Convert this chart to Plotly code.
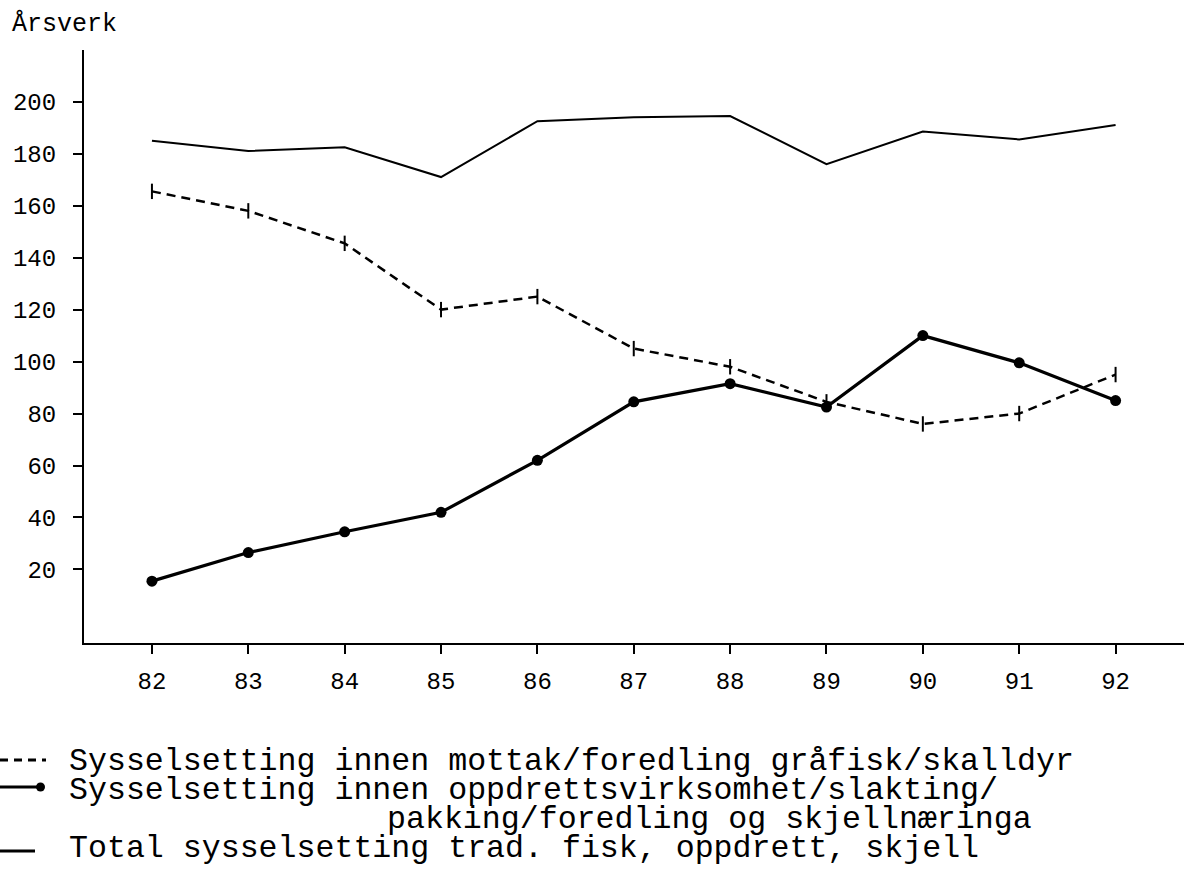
import plotly.graph_objects as go

years = [82, 83, 84, 85, 86, 87, 88, 89, 90, 91, 92]
mottak = [165.5, 158, 145.5, 120, 125, 105, 98, 84.5, 76, 80, 95]
oppdrett = [15.5, 26.5, 34.5, 42, 62, 84.5, 91.5, 82.5, 110, 99.5, 85]
total = [185, 181, 182.5, 171, 192.5, 194, 194.5, 176, 188.5, 185.5, 191]
y_ticks = [20, 40, 60, 80, 100, 120, 140, 160, 180, 200]
x_ticks = years
x_ticktext = ["82", "83", "84", "85", "86", "87", "88", "89", "90", "91", "92"]
legend_lines = [
    "Sysselsetting innen mottak/foredling gråfisk/skalldyr",
    "Sysselsetting innen oppdrettsvirksomhet/slakting/",
    "pakking/foredling og skjellnæringa",
    "Total sysselsetting trad. fisk, oppdrett, skjell",
]

FONT = "Liberation Mono, Courier New, monospace"
W, H = 1184, 870
L, R, T, B = 84, 0, 50, 227
PW, PH = W - L - R, H - T - B


def px(x):
    return (x - L) / PW


def py(y):
    return (H - B - y) / PH


fig = go.Figure()
fig.add_trace(go.Scatter(
    x=years, y=total, mode="lines",
    line=dict(color="black", width=2), showlegend=False))
fig.add_trace(go.Scatter(
    x=years, y=mottak, mode="lines+markers",
    line=dict(color="black", width=2.5, dash="9px,6px"),
    marker=dict(symbol="line-ns", size=11, line=dict(color="black", width=2)),
    showlegend=False))
fig.add_trace(go.Scatter(
    x=years, y=oppdrett, mode="lines+markers",
    line=dict(color="black", width=3.2),
    marker=dict(symbol="circle", size=11, color="black"),
    showlegend=False))

fig.update_layout(
    width=W, height=H,
    margin=dict(l=L, r=R, t=T, b=B, pad=0),
    paper_bgcolor="white", plot_bgcolor="white",
    font=dict(family=FONT, color="black", size=24),
    xaxis=dict(range=[81.295, 92.71], tickvals=x_ticks, ticktext=x_ticktext,
               showgrid=False, zeroline=False, showline=True, linecolor="black",
               linewidth=2, ticks="outside", ticklen=9, tickwidth=2,
               tickcolor="black", tickfont=dict(size=24, family=FONT),
               ticklabelstandoff=6),
    yaxis=dict(range=[-8.3, 219.9], tickvals=y_ticks,
               showgrid=False, zeroline=False, showline=True, linecolor="black",
               linewidth=2, ticks="outside", ticklen=9, tickwidth=2,
               tickcolor="black", tickfont=dict(size=24, family=FONT),
               ticklabelstandoff=12),
)

# axis title
fig.add_annotation(text="Årsverk", xref="paper", yref="paper",
                   x=px(10), y=py(24), xanchor="left", yanchor="middle",
                   showarrow=False, font=dict(size=25, family=FONT))

# legend text
leg_y = [761, 790, 819, 848]
leg_x = [67, 67, 385, 67]
for txt, yy, xx in zip(legend_lines, leg_y, leg_x):
    fig.add_annotation(text=txt, xref="paper", yref="paper",
                       x=px(xx), y=py(yy), xanchor="left", yanchor="middle",
                       showarrow=False, font=dict(size=31.6, family=FONT))

# legend samples
fig.add_shape(type="line", xref="paper", yref="paper",
              x0=px(0), x1=px(46), y0=py(760), y1=py(760),
              line=dict(color="black", width=3, dash="8px,6px"))
fig.add_shape(type="line", xref="paper", yref="paper",
              x0=px(0), x1=px(40), y0=py(787), y1=py(787),
              line=dict(color="black", width=3))
fig.add_shape(type="circle", xref="paper", yref="paper",
              x0=px(36), x1=px(45), y0=py(782.5), y1=py(791.5),
              fillcolor="black", line=dict(color="black", width=0))
fig.add_shape(type="line", xref="paper", yref="paper",
              x0=px(0), x1=px(35), y0=py(851), y1=py(851),
              line=dict(color="black", width=3))

fig.write_html("out.html", config={"displayModeBar": False},
               post_script="document.body.style.margin='0';")
